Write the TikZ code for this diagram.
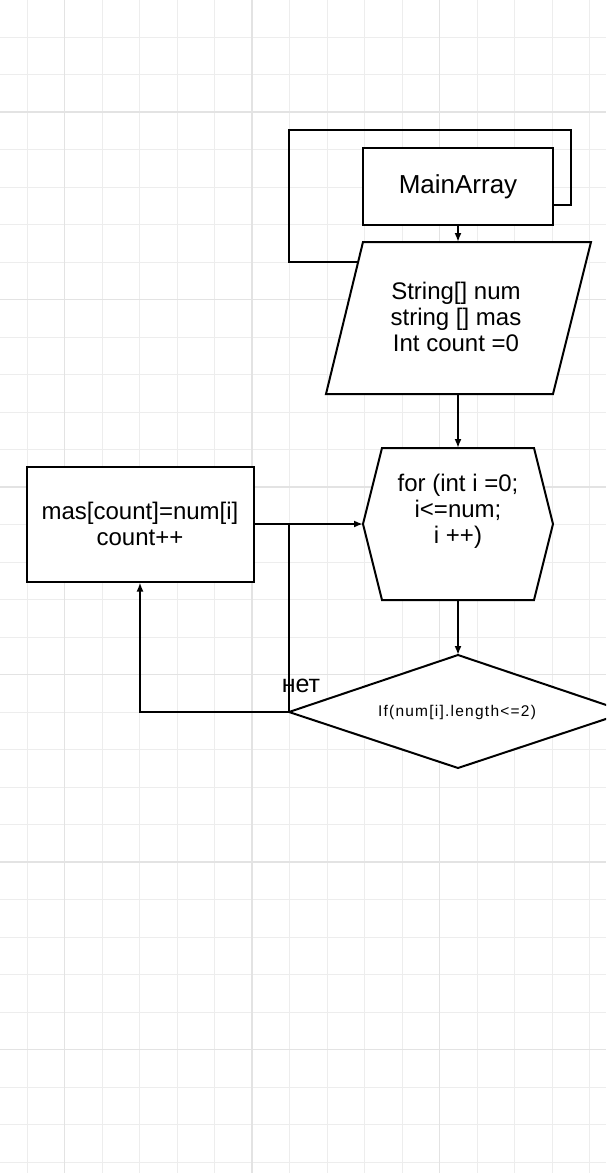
\documentclass[tikz,border=0pt]{standalone}
\usepackage{fontspec}
\setmainfont{Liberation Sans}
\newfontfamily\spaced[LetterSpace=8]{Liberation Sans}
\usetikzlibrary{arrows.meta}
\begin{document}
\begin{tikzpicture}[x=1pt,y=-1pt,
  minor/.style={draw=black!7,line width=1pt},
  major/.style={draw=black!11,line width=1.4pt},
  shp/.style={draw=black,fill=white,line width=2pt},
  box/.style={shp,rectangle,inner sep=0pt},
  txt/.style={align=center,inner sep=0pt,font=\fontsize{24}{26}\selectfont},
  conn/.style={draw=black,line width=2pt},
  arr/.style={conn,-{Latex[length=9pt,width=7pt]}}]
\useasboundingbox (0,0) rectangle (606,1173);
\clip (0,0) rectangle (606,1173);
\fill[white] (0,0) rectangle (606,1173);
% grid
\foreach \i in {0,...,15} \draw[minor] ({27+37.5*\i},0) -- ({27+37.5*\i},1173);
\foreach \i in {-1,...,30} \draw[minor] (0,{37+37.5*\i}) -- (606,{37+37.5*\i});
\foreach \x in {64.5,252,439.5} \draw[major] (\x,0) -- (\x,1173);
\foreach \y in {112,299.5,487,674.5,862,1049.5} \draw[major] (0,\y) -- (606,\y);
% MainArray
\node[box,minimum width=190pt,minimum height=77pt,font=\fontsize{26}{28}\selectfont] (main) at (458,186.5) {MainArray};
% parallelogram
\draw[shp] (363,242) -- (591,242) -- (553,394) -- (326,394) -- cycle;
\node[txt] (init) at (456,317) {String[] num\\string [] mas\\Int count =0};
\coordinate (initT) at (458,242);
\coordinate (initB) at (458,394);
\coordinate (initL) at (358,262);
% hexagon
\draw[shp] (382,448) -- (534,448) -- (553,524) -- (534,600) -- (382,600) -- (363,524) -- cycle;
\node[txt] (loop) at (458,511) {for (int i =0;\\i<=num;\\i ++)};
\coordinate (hexT) at (458,448);
\coordinate (hexB) at (458,600);
\coordinate (hexL) at (363,524);
% diamond
\draw[shp] (458,655) -- (627,712) -- (458,768) -- (289,712) -- cycle;
\node[inner sep=0pt,font=\spaced\fontsize{15.5}{17}\selectfont] (cond) at (457,712) {If(num[i].length<=2)};
\coordinate (dT) at (458,655);
\coordinate (dL) at (289,712);
% mas rect
\node[box,minimum width=227pt,minimum height=115pt,txt] (mas) at (140,524) {mas[count]=num[i]\\count++};
% connectors
\coordinate (loopA) at ([yshift=-18.5pt]main.east);
\coordinate (j) at (289,524);
\draw[conn] (loopA) -- (571,205) -- (571,130) -- (289,130) -- (289,262) -- (initL);
\draw[arr] (main.south) -- (initT);
\draw[arr] (initB) -- (hexT);
\draw[arr] (hexB) -- (dT);
\draw[arr] (dL) -| (mas.south);
\draw[conn] (dL) -- (j);
\draw[arr] (mas.east) -- (hexL);
\node[inner sep=0pt,font=\fontsize{25}{27}\selectfont] (no) at (301,686) {нет};
\end{tikzpicture}
\end{document}
